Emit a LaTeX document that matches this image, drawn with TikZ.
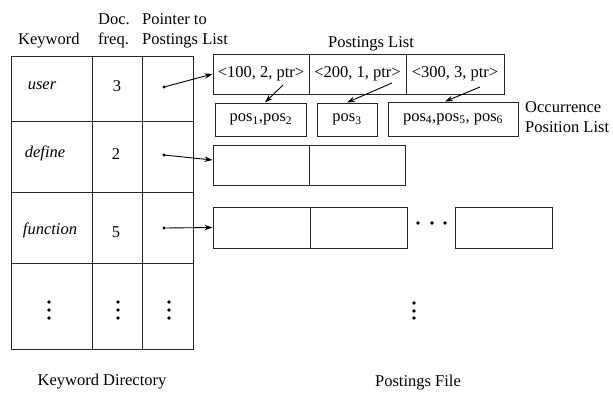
\documentclass[tikz,border=0pt]{standalone}
\usepackage{fontspec}
\setmainfont{Liberation Serif}
\usetikzlibrary{arrows.meta}
\begin{document}
\begin{tikzpicture}[x=1pt,y=-1pt,
  txt/.style={inner sep=0pt,font=\fontsize{16.5}{20}\selectfont},
  cell/.style={draw=black!85,line width=1pt,inner sep=0pt,font=\fontsize{16.5}{20}\selectfont},
  ptr/.style={line width=0.9pt,-{Stealth[length=8pt,width=5.5pt]}},
  dot/.style={fill=black,draw=none}]
\useasboundingbox (0,0) rectangle (613,392);

% column headings of the keyword directory
\node[txt,anchor=west] (hkw) at (18,41) {Keyword};
\node[txt,anchor=west,align=left] (hdf) at (98,31) {Doc.\\freq.};
\node[txt,anchor=west,align=left] (hpt) at (142,31) {Pointer to\\Postings List};

% keyword directory
\node[cell,minimum width=81pt,minimum height=65pt] (k1) at (51.5,88.5) {};
\node[cell,minimum width=50pt,minimum height=65pt] (f1) at (117,88.5) {};
\node[cell,minimum width=51pt,minimum height=65pt] (q1) at (167.5,88.5) {};
\node[cell,minimum width=81pt,minimum height=71pt] (k2) at (51.5,156.5) {};
\node[cell,minimum width=50pt,minimum height=71pt] (f2) at (117,156.5) {};
\node[cell,minimum width=51pt,minimum height=71pt] (q2) at (167.5,156.5) {};
\node[cell,minimum width=81pt,minimum height=71pt] (k3) at (51.5,227.5) {};
\node[cell,minimum width=50pt,minimum height=71pt] (f3) at (117,227.5) {};
\node[cell,minimum width=51pt,minimum height=71pt] (q3) at (167.5,227.5) {};
\node[cell,minimum width=81pt,minimum height=86pt] (k4) at (51.5,306) {};
\node[cell,minimum width=50pt,minimum height=86pt] (f4) at (117,306) {};
\node[cell,minimum width=51pt,minimum height=86pt] (q4) at (167.5,306) {};

\node[txt] (w1) at (42,86) {\itshape user};
\node[txt] (n1) at (117,86) {3};
\node[txt] (w2) at (45,153) {\itshape define};
\node[txt] (n2) at (116,154) {2};
\node[txt] (w3) at (50,230) {\itshape function};
\node[txt] (n3) at (116,232) {5};

% continuation dots
\foreach \x in {49,118,169}{
  \foreach \y in {302,310,318}{ \fill[dot] (\x,\y) circle (1.8); }
}

% postings list
\node[txt] (hpl) at (371,44) {Postings List};
\node[cell,minimum width=96pt,minimum height=40pt] (a1) at (261,74) {<100, 2, ptr>};
\node[cell,minimum width=97pt,minimum height=40pt] (a2) at (357.5,74) {<200, 1, ptr>};
\node[cell,minimum width=98pt,minimum height=40pt] (a3) at (455,74) {<300, 3, ptr>};

% occurrence position lists
\node[cell,minimum width=91pt,minimum height=33pt] (o1) at (261,119.5) {pos\textsubscript{1},pos\textsubscript{2}};
\node[cell,minimum width=60pt,minimum height=33pt] (o2) at (347,119.5) {pos\textsubscript{3}};
\node[cell,minimum width=130pt,minimum height=34pt] (o3) at (453,119) {pos\textsubscript{4},pos\textsubscript{5}, pos\textsubscript{6}};
\node[txt,anchor=west,align=left] (hop) at (525,117) {Occurrence\\Position List};

% further postings lists
\node[cell,minimum width=96pt,minimum height=40pt] (b1) at (261,165) {};
\node[cell,minimum width=96pt,minimum height=40pt] (b2) at (357,165) {};
\node[cell,minimum width=97pt,minimum height=41pt] (c1) at (261.5,227.5) {};
\node[cell,minimum width=97pt,minimum height=41pt] (c2) at (358.5,227.5) {};
\node[cell,minimum width=97pt,minimum height=41pt] (c3) at (503.5,227.5) {};
\foreach \x in {418,432,445}{ \fill[dot] (\x,223) circle (1.8); }
\foreach \y in {303,311,318}{ \fill[dot] (414,\y) circle (1.8); }

% pointers from the directory
\coordinate (s1) at (164,87);
\coordinate (s2) at (164,155);
\coordinate (s3) at (164,228);
\foreach \s in {s1,s2,s3}{ \fill[dot] (\s) circle (1.6); }
\draw[ptr] (s1) -- (a1.west);
\draw[ptr] (s2) -- ([yshift=5pt]b1.west);
\draw[ptr] (s3) -- (c1.west);

% pointers from postings to occurrence lists
\coordinate (t1) at (283,85);
\coordinate (t2) at (392,83);
\coordinate (t3) at (480,87);
\draw[ptr] (t1) -- ([xshift=4pt]o1.north);
\draw[ptr] (t2) -- (o2.north);
\draw[ptr] (t3) -- ([xshift=-8pt]o3.north);

% captions
\node[txt] (cap1) at (102,382) {Keyword Directory};
\node[txt] (cap2) at (418,383) {Postings File};
\end{tikzpicture}
\end{document}
